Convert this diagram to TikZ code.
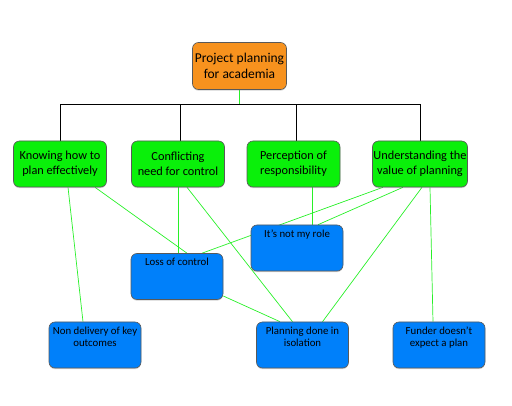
\documentclass[tikz,border=0pt]{standalone}
\usepackage{fontspec}
\setmainfont{Carlito}
\usepackage{tikz}
\usetikzlibrary{calc,backgrounds,shadows}
\definecolor{boxorange}{RGB}{247,146,30}
\definecolor{boxgreen}{RGB}{10,240,10}
\definecolor{boxblue}{RGB}{0,128,250}
\definecolor{linkgreen}{RGB}{40,240,40}
\def\toptext#1{\begin{minipage}[t][36pt][t]{90pt}\centering #1\end{minipage}}

\begin{document}
\begin{tikzpicture}[x=1pt,y=-1pt,
	topbox/.style={draw=black!65, line width=0.6pt, rounded corners=6pt, fill=boxorange, minimum width=94pt, minimum height=47pt, inner sep=1pt, align=center, font=\fontsize{13.5}{15.5}\selectfont, drop shadow={opacity=0.35, shadow xshift=0pt, shadow yshift=-1.2pt}},
	greenbox/.style={draw=black!65, line width=0.6pt, rounded corners=6pt, fill=boxgreen, minimum width=93pt, minimum height=46pt, inner sep=1pt, align=center, font=\fontsize{12.3}{15}\selectfont, drop shadow={opacity=0.35, shadow xshift=0pt, shadow yshift=-1.2pt}},
	bluebox/.style={draw=black!65, line width=0.6pt, rounded corners=6pt, fill=boxblue, minimum width=92pt, minimum height=46pt, inner xsep=1pt, inner ysep=5pt, font=\fontsize{10.8}{12}\selectfont, drop shadow={opacity=0.35, shadow xshift=0pt, shadow yshift=-1.2pt}},
	link/.style={draw=linkgreen, line width=0.7pt},
	tree/.style={draw=black, line width=0.6pt}]
			%%%%% START %%%%%
			
			\useasboundingbox (0,0) rectangle (512,406);
			
			\node[topbox] (proj) at (239.5,66) {Project planning\\for academia};
			
			\node[greenbox] (know) at (60,164) {Knowing how to\\plan effectively};
			\node[greenbox] (confl) at (178,164) {Conflicting\\need for control};
			\node[greenbox] (percep) at (293.5,164) {Perception of\\responsibility};
			\node[greenbox] (underst) at (420,164) {Understanding the\\value of planning};
			
			\node[bluebox] (role) at (297,248) {\toptext{It's not my role}};
			\node[bluebox] (loss) at (177,276.5) {\toptext{Loss of control}};
			\node[bluebox] (nondel) at (95,345) {\toptext{Non delivery of key\\outcomes}};
			\node[bluebox] (iso) at (302.5,345) {\toptext{Planning done in\\isolation}};
			\node[bluebox] (funder) at (439,345) {\toptext{Funder doesn't\\expect a plan}};
			
			\coordinate (bus) at (240,104);
			
			\begin{scope}[on background layer]
			\draw[link] (proj.south) -- (proj.south |- bus);
			\draw[tree] (know.north |- bus) -- (underst.north |- bus);
			\draw[tree] (know.north) -- (know.north |- bus);
			\draw[tree] ([xshift=2pt]confl.north) -- ([xshift=2pt]confl.north |- bus);
			\draw[tree] ([xshift=2.5pt]percep.north) -- ([xshift=2.5pt]percep.north |- bus);
			\draw[tree] (underst.north) -- (underst.north |- bus);
			
			\draw[link] ([xshift=8pt]know.south) -- ([xshift=-12pt]nondel.north);
			\draw[link] ([xshift=35pt]know.south) -- ([xshift=10pt]loss.north);
			\draw[link] (confl.south) -- (confl.south |- loss.north);
			\draw[link] ([xshift=9pt]confl.south) -- ([xshift=-10pt]iso.north);
			\draw[link] ([xshift=15pt]role.north |- percep.south) -- ([xshift=15pt]role.north);
			\draw[link] ([xshift=-37pt]underst.south) -- ([xshift=25pt]loss.north);
			\draw[link] ([xshift=-17pt]underst.south) -- ([xshift=21pt]role.north);
			\draw[link] ([xshift=2pt]underst.south) -- ([xshift=20pt]iso.north);
			\draw[link] ([xshift=10pt]underst.south) -- ([xshift=-6pt]funder.north);
			\draw[link] ([yshift=-19.5pt]loss.east) -- ([xshift=-22.5pt]iso.north);
			\end{scope}
			
			%%%%% END %%%%%
\end{tikzpicture}
\end{document}
